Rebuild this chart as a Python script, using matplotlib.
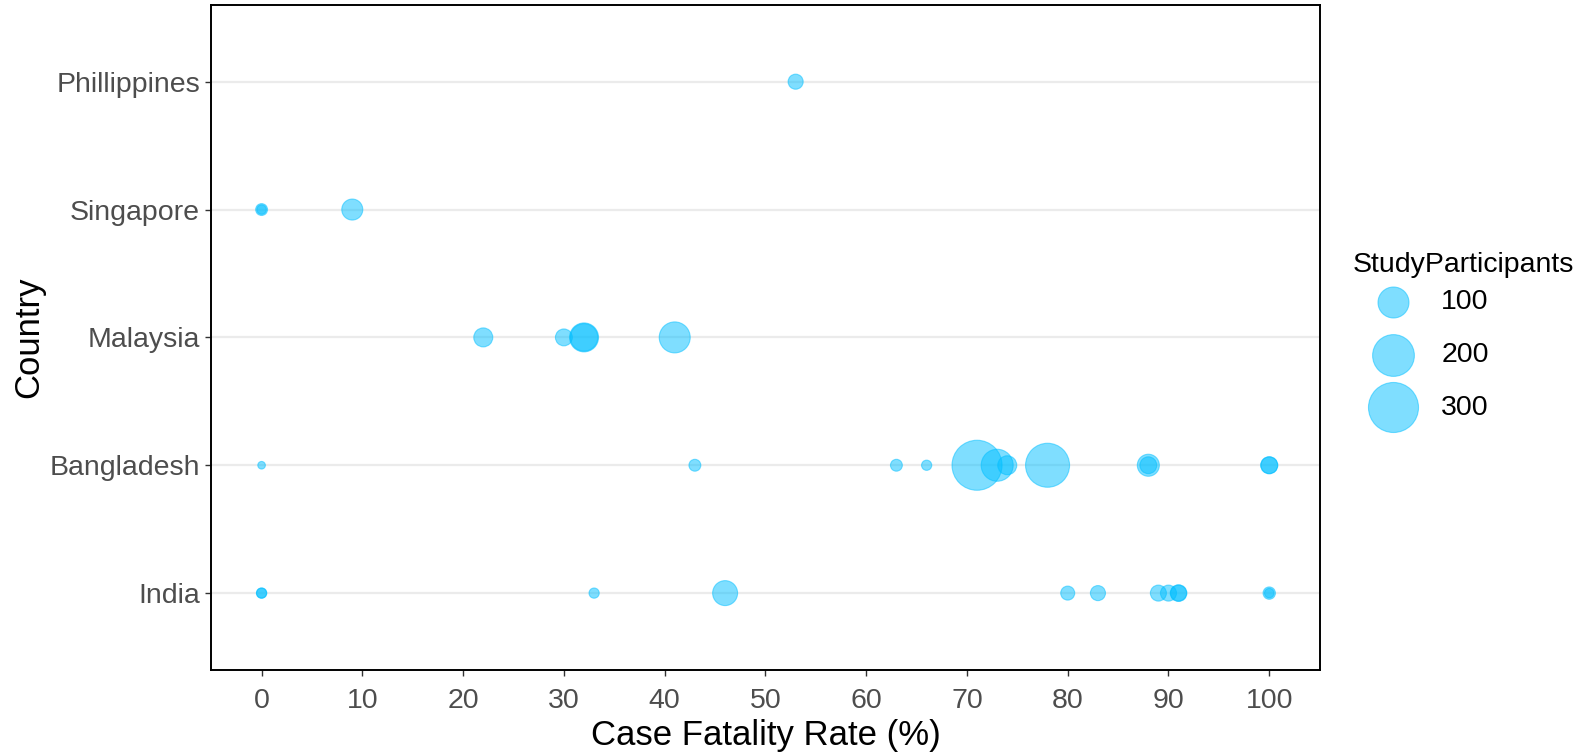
import numpy as np
import matplotlib
matplotlib.use("Agg")
import matplotlib.pyplot as plt

plt.rcParams['font.family'] = ['Liberation Sans', 'DejaVu Sans']

# categories (bottom to top)
countries = ["India", "Bangladesh", "Malaysia", "Singapore", "Phillippines"]

# one entry per study
study_country = (["India"] * 12 + ["Bangladesh"] * 12 + ["Malaysia"] * 5
                 + ["Singapore"] * 3 + ["Phillippines"])
cfr = [0, 0, 33, 46, 80, 83, 89, 90, 91, 91, 100, 100,
       0, 43, 63, 66, 71, 73, 74, 78, 88, 88, 100, 100,
       22, 30, 32, 32, 41,
       0, 0, 9,
       53]
participants = [4, 4, 4, 59, 12, 15, 18, 18, 20, 18, 8, 3,
                1, 7, 7, 4, 300, 108, 29, 225, 43, 21, 21, 21,
                29, 21, 85, 75, 100,
                7, 3, 38,
                15]

legend_values = [100, 200, 300]
xticks = list(range(0, 101, 10))

COL = "#00BFFF"
DPI = 100


def marker_area(v):
    # diameter in pixels grows with sqrt of participants, convert to pt^2
    d_px = 5 + 2.6 * np.sqrt(np.asarray(v, dtype=float))
    return (d_px * 72.0 / DPI) ** 2


fig = plt.figure(figsize=(15.88, 7.56), dpi=DPI)
ax = fig.add_axes([0.133, 0.114, 0.698, 0.8794])

ypos = [countries.index(c) + 1 for c in study_country]
ax.scatter(cfr, ypos, s=marker_area(participants), color=COL, alpha=0.5,
           edgecolors=COL, linewidths=0.8, zorder=3)

ax.set_xlim(-5, 105)
ax.set_ylim(0.4, len(countries) + 0.6)
ax.set_xticks(xticks)
ax.set_yticks(range(1, len(countries) + 1))
ax.set_yticklabels(countries)

ax.grid(axis="y", color="#EBEBEB", linewidth=1.6, zorder=0)
ax.grid(axis="x", visible=False)
ax.set_axisbelow(True)

for sp in ax.spines.values():
    sp.set_color("black")
    sp.set_linewidth(1.4)

ax.tick_params(axis="both", colors="#333333", labelcolor="#4D4D4D",
               labelsize=20.5, length=4, width=1, pad=4)
ax.tick_params(axis="x", pad=9)
ax.set_xlabel("Case Fatality Rate (%)", fontsize=25, color="black", labelpad=4)
ax.set_ylabel("Country", fontsize=25, color="black", labelpad=3)

handles = [ax.scatter([], [], s=marker_area(v), color=COL, alpha=0.5,
                      edgecolors=COL, linewidths=0.8) for v in legend_values]
leg = ax.legend(handles, [str(v) for v in legend_values],
                title="StudyParticipants", loc="upper left",
                bbox_to_anchor=(1.03, 0.628), frameon=False, fontsize=20.5,
                title_fontsize=20.5, labelspacing=0.94, handletextpad=0.3,
                borderaxespad=0, borderpad=0, handlelength=2.8)
leg._legend_box.align = "left"
leg._legend_box.sep = 8.0  # tighter gap between title and keys

fig.savefig("out.png", dpi=DPI)
